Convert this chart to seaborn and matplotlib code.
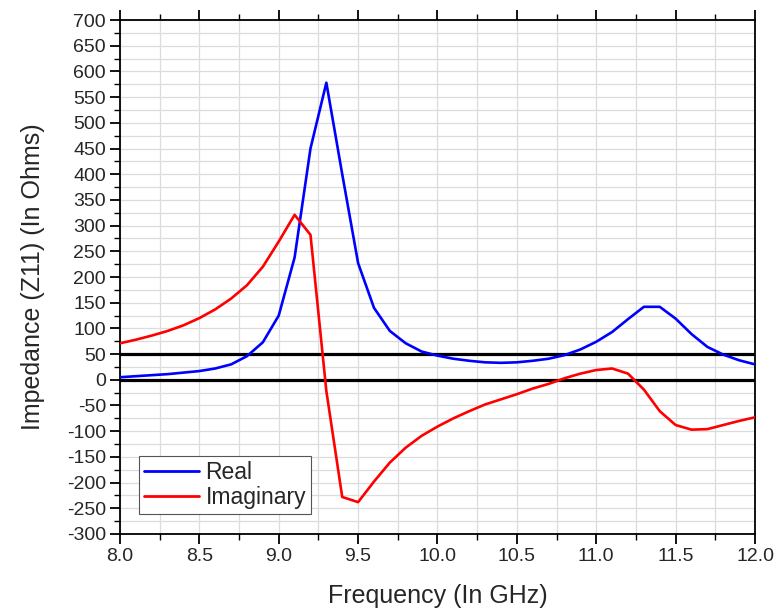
import matplotlib
matplotlib.use("Agg")
import matplotlib.pyplot as plt
from matplotlib.ticker import MultipleLocator
import numpy as np
import pandas as pd
import seaborn as sns

# frequency points (GHz)
freq = [8.0, 8.1, 8.2, 8.3, 8.4, 8.5, 8.6, 8.7, 8.8, 8.9,
        9.0, 9.1, 9.2, 9.3, 9.4, 9.5, 9.6, 9.7, 9.8, 9.9,
        10.0, 10.1, 10.2, 10.3, 10.4, 10.5, 10.6, 10.7, 10.8, 10.9,
        11.0, 11.1, 11.2, 11.3, 11.4, 11.5, 11.6, 11.7, 11.8, 11.9, 12.0]

# Z11 real part (Ohms)
z_real = [5, 7, 9, 11, 14, 17, 22, 30, 46, 73,
          125, 238, 450, 578, 400, 227, 140, 95, 71, 55,
          47, 41, 37, 34, 33, 34, 37, 41, 48, 59,
          74, 93, 118, 142, 142, 119, 89, 64, 49, 38, 30]

# Z11 imaginary part (Ohms)
z_imag = [71, 78, 86, 95, 106, 120, 137, 158, 184, 220,
          269, 321, 282, -22, -228, -238, -198, -161, -132, -109,
          -91, -75, -61, -48, -38, -28, -17, -8, 3, 12,
          19, 22, 12, -19, -61, -88, -97, -96, -88, -80, -73]

ref_levels = [0, 50]

df = pd.DataFrame({
    "freq": freq * 2,
    "value": z_real + z_imag,
    "part": ["Real"] * len(freq) + ["Imaginary"] * len(freq),
})

sns.set_style("white")
plt.rcParams["font.family"] = ["Liberation Sans", "DejaVu Sans"]
plt.rcParams["axes.unicode_minus"] = False

fig = plt.figure(figsize=(7.75, 6.1), dpi=100)
ax = fig.add_axes([0.1548, 0.1246, 0.8194, 0.8426])

# light grid at every minor step
ax.xaxis.set_major_locator(MultipleLocator(0.5))
ax.xaxis.set_minor_locator(MultipleLocator(0.25))
ax.yaxis.set_major_locator(MultipleLocator(50))
ax.yaxis.set_minor_locator(MultipleLocator(25))
ax.grid(True, which="both", color="#dcdcdc", linewidth=0.9, zorder=0)

for lvl in ref_levels:
    ax.axhline(lvl, color="black", linewidth=2.3, zorder=2)

sns.lineplot(data=df, x="freq", y="value", hue="part",
             palette={"Real": "#0000ff", "Imaginary": "#ff0000"},
             linewidth=1.9, ax=ax, zorder=3)

ax.set_xlim(8.0, 12.0)
ax.set_ylim(-300, 700)
ax.xaxis.set_major_formatter(plt.FormatStrFormatter("%.1f"))

ax.set_xlabel("Frequency (In GHz)", fontsize=18, labelpad=14)
ax.set_ylabel("Impedance (Z11) (In Ohms)", fontsize=18, labelpad=16)

for s in ax.spines.values():
    s.set_color("black")
    s.set_linewidth(1.3)

ax.tick_params(axis="both", which="major", direction="out", length=7,
               width=1.3, labelsize=14, color="black", pad=3)
ax.tick_params(axis="both", which="minor", direction="out", length=4.5,
               width=1.0, color="black")
ax.tick_params(axis="x", which="both", top=True, bottom=True)
ax.tick_params(axis="y", which="both", left=True, right=False)

handles, labels = ax.get_legend_handles_labels()
leg = ax.legend(handles, labels, loc="lower left",
                bbox_to_anchor=(0.03, 0.039), borderaxespad=0,
                fontsize=16.5, handlelength=2.4, handletextpad=0.3,
                labelspacing=0.12, borderpad=0.2, fancybox=False,
                framealpha=1, edgecolor="#555555")
leg.get_frame().set_linewidth(0.8)
for line in leg.get_lines():
    line.set_linewidth(2.0)

fig.savefig("out.png", dpi=100)
plt.close(fig)
